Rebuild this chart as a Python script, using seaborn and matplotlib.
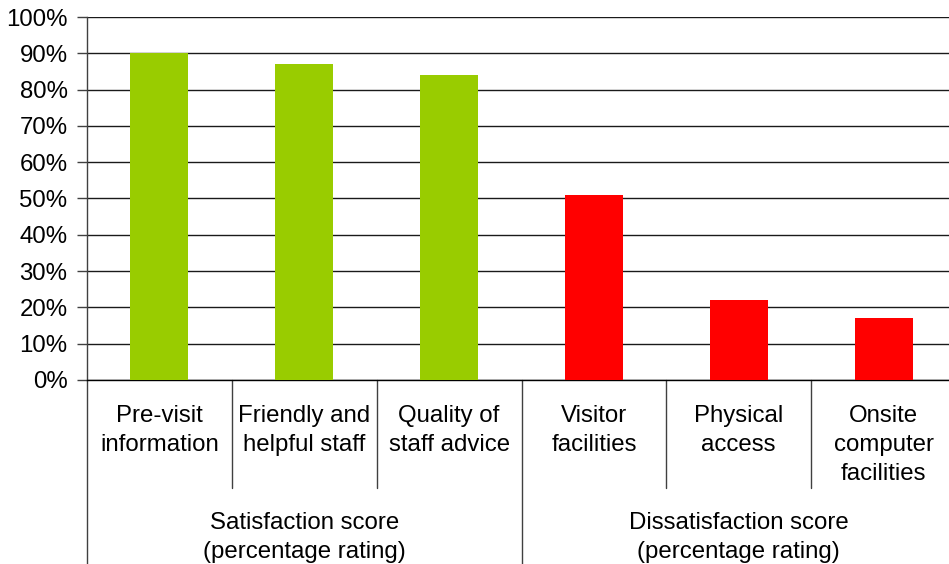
import matplotlib
matplotlib.use("Agg")
import matplotlib.pyplot as plt
from matplotlib.lines import Line2D
from matplotlib.ticker import PercentFormatter, MultipleLocator
import seaborn as sns
import pandas as pd

# Visitor survey results
categories = ["Pre-visit\ninformation", "Friendly and\nhelpful staff", "Quality of\nstaff advice",
              "Visitor\nfacilities", "Physical\naccess", "Onsite\ncomputer\nfacilities"]
scores = [0.90, 0.87, 0.84, 0.51, 0.22, 0.17]
groups = ["Satisfaction score\n(percentage rating)"] * 3 + ["Dissatisfaction score\n(percentage rating)"] * 3
group_names = ["Satisfaction score\n(percentage rating)", "Dissatisfaction score\n(percentage rating)"]
group_colors = ["#99CC00", "#FF0000"]

df = pd.DataFrame({"category": categories, "score": scores, "group": groups})

sns.set_style("white")
plt.rcParams["font.family"] = ["Liberation Sans", "DejaVu Sans"]
plt.rcParams["text.color"] = "black"
FS = 17.3
LS = 1.4

W, H = 949, 564
fig = plt.figure(figsize=(W / 100, H / 100), dpi=100)
left, right, top, bottom = 87, 956, 17, 380
ax = fig.add_axes([left / W, 1 - bottom / H, (right - left) / W, (bottom - top) / H])

sns.barplot(data=df, x="category", y="score", hue="group", hue_order=group_names,
            palette=group_colors, width=0.4, dodge=False, legend=False,
            saturation=1, linewidth=0, ax=ax, zorder=3)

ax.set_xlim(-0.5, len(categories) - 0.5)
ax.set_ylim(0, 1)
ax.yaxis.set_major_locator(MultipleLocator(0.1))
ax.yaxis.set_major_formatter(PercentFormatter(1.0, decimals=0))
ax.set_xlabel("")
ax.set_ylabel("")
ax.set_xticks([])
ax.grid(axis="y", color="#1a1a1a", linewidth=1, zorder=0)
ax.set_axisbelow(True)
ax.tick_params(axis="y", which="major", left=True, length=7, width=1, color="#404040",
               pad=7, labelsize=FS, labelcolor="black", direction="out")

for side in ["top", "right"]:
    ax.spines[side].set_visible(False)
ax.spines["left"].set_color("#404040")
ax.spines["left"].set_linewidth(1)
ax.spines["bottom"].set_color("black")
ax.spines["bottom"].set_linewidth(1)

# Two-level category axis drawn below the plot
axh = bottom - top
trans = ax.get_xaxis_transform()
short_y = -(488 - bottom) / axh
long_y = -(H - bottom) / axh
for i in range(len(categories) + 1):
    xpos = i - 0.5
    ybot = long_y if i in (0, 3, 6) else short_y
    ax.add_line(Line2D([xpos, xpos], [0, ybot], transform=trans, color="#404040",
                       linewidth=1, clip_on=False))

label_top = -(405 - bottom) / axh
for i, lab in enumerate(categories):
    ax.text(i, label_top, lab, transform=trans, ha="center", va="top",
            fontsize=FS, linespacing=LS, color="black", clip_on=False)

group_y = -(537.5 - bottom) / axh
for j, g in enumerate(group_names):
    ax.text(1 + 3 * j, group_y, g, transform=trans, ha="center", va="center",
            fontsize=FS, linespacing=LS, color="black", clip_on=False)

fig.savefig("out.png", dpi=100)
